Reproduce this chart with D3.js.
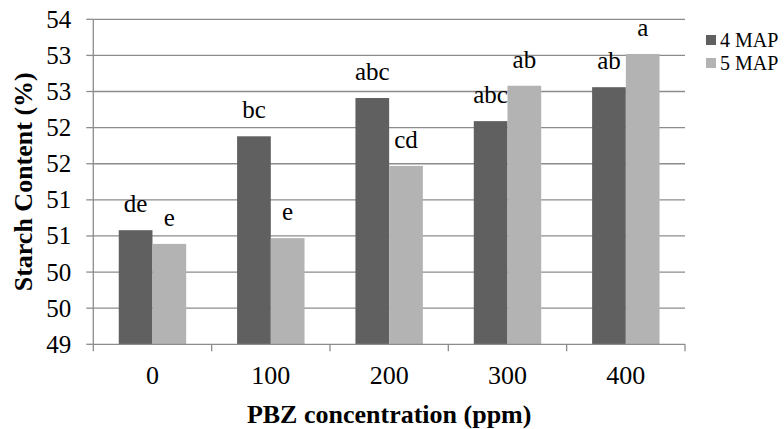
<!DOCTYPE html>
<html>
<head>
<meta charset="utf-8">
<script src="https://cdn.jsdelivr.net/npm/d3@7"></script>
</head>
<body style="margin:0">
<svg id="s" width="784" height="429" style="font-family: 'Liberation Serif', 'Times New Roman', serif"></svg>
<script>
const categories = ["0", "100", "200", "300", "400"];
const seriesNames = ["4 MAP", "5 MAP"];
const map4 = [50.58, 51.88, 52.41, 52.09, 52.56];
const map5 = [50.39, 50.47, 51.47, 52.58, 53.02];
const labels4 = ["de", "bc", "abc", "abc", "ab"];
const labels5 = ["e", "e", "cd", "ab", "a"];
const yTicks = [49, 49.5, 50, 50.5, 51, 51.5, 52, 52.5, 53, 53.5];
const colors = ["#606060", "#b3b3b3"];

(function () {
const FONT = "'Liberation Serif', 'Times New Roman', serif";
const svg = d3.select("#s");
const pl = 93.3, pr = 685, pt = 19.3, pb = 344.3;

const x0 = d3.scaleBand().domain(categories).range([pl, pr]).padding(0);
const x1 = d3.scaleBand().domain(seriesNames).range([0, x0.bandwidth()]).paddingInner(0).paddingOuter(0.755);
const y = d3.scaleLinear().domain([49, 53.5]).range([pb, pt]);

const fmt = v => String(Math.round(v));
const txt = sel => sel.style("font-family", FONT).attr("fill", "#000");

// gridlines
svg.append("g").selectAll("line").data(yTicks.slice(1)).join("line")
  .attr("x1", pl).attr("x2", pr)
  .attr("y1", d => y(d)).attr("y2", d => y(d))
  .attr("stroke", "#8c8c8c").attr("stroke-width", 1.3);

// y axis line and ticks
svg.append("line").attr("x1", pl).attr("x2", pl).attr("y1", pt).attr("y2", pb)
  .attr("stroke", "#8c8c8c").attr("stroke-width", 1.3);
svg.append("g").selectAll("line").data(yTicks).join("line")
  .attr("x1", pl - 7).attr("x2", pl)
  .attr("y1", d => y(d)).attr("y2", d => y(d))
  .attr("stroke", "#8c8c8c").attr("stroke-width", 1.3);
svg.append("g").selectAll("text").data(yTicks).join("text")
  .attr("x", pl - 22).attr("y", d => y(d)).attr("dy", "0.34em")
  .attr("text-anchor", "end")
  .attr("font-size", 25).call(txt)
  .text(fmt);

// bars
const data = categories.map((c, i) => ({ c, vals: [map4[i], map5[i]], labs: [labels4[i], labels5[i]] }));
const groups = svg.append("g").selectAll("g").data(data).join("g")
  .attr("transform", d => `translate(${x0(d.c)},0)`);
groups.selectAll("rect").data(d => d.vals.map((v, k) => ({ k, v }))).join("rect")
  .attr("x", d => x1(seriesNames[d.k]))
  .attr("width", x1.bandwidth())
  .attr("y", d => y(d.v))
  .attr("height", d => y(49) - y(d.v))
  .attr("fill", d => colors[d.k]);
groups.selectAll("text").data(d => d.vals.map((v, k) => ({ k, v, lab: d.labs[k] }))).join("text")
  .attr("x", d => x1(seriesNames[d.k]) + x1.bandwidth() / 2)
  .attr("y", d => y(d.v) - 18)
  .attr("text-anchor", "middle")
  .attr("font-size", 25).call(txt)
  .text(d => d.lab);

// x axis line, separator ticks, labels
svg.append("line").attr("x1", pl).attr("x2", pr).attr("y1", pb).attr("y2", pb)
  .attr("stroke", "#8c8c8c").attr("stroke-width", 1.3);
const bounds = categories.map(c => x0(c)).concat([pr]);
svg.append("g").selectAll("line").data(bounds).join("line")
  .attr("x1", d => d).attr("x2", d => d)
  .attr("y1", pb).attr("y2", pb + 7)
  .attr("stroke", "#8c8c8c").attr("stroke-width", 1.3);
svg.append("g").selectAll("text").data(categories).join("text")
  .attr("x", d => x0(d) + x0.bandwidth() / 2).attr("y", 384)
  .attr("text-anchor", "middle")
  .attr("font-size", 26).call(txt)
  .text(d => d);

// axis titles
svg.append("text")
  .attr("x", (pl + pr) / 2).attr("y", 423)
  .attr("text-anchor", "middle").attr("font-size", 26).attr("font-weight", "bold")
  .call(txt)
  .text("PBZ concentration (ppm)");
svg.append("text")
  .attr("transform", `translate(32,${(pt + pb) / 2}) rotate(-90)`)
  .attr("text-anchor", "middle").attr("font-size", 26).attr("font-weight", "bold")
  .call(txt)
  .text("Starch Content (%)");

// legend
const leg = svg.append("g").selectAll("g").data(seriesNames).join("g")
  .attr("transform", (d, i) => `translate(706,${40 + i * 23})`);
leg.append("rect").attr("x", 0).attr("y", -5).attr("width", 10).attr("height", 10)
  .attr("fill", (d, i) => colors[i]);
leg.append("text").attr("x", 14).attr("y", 7).attr("font-size", 20)
  .call(txt).text(d => d);
})();
</script>
</body>
</html>
